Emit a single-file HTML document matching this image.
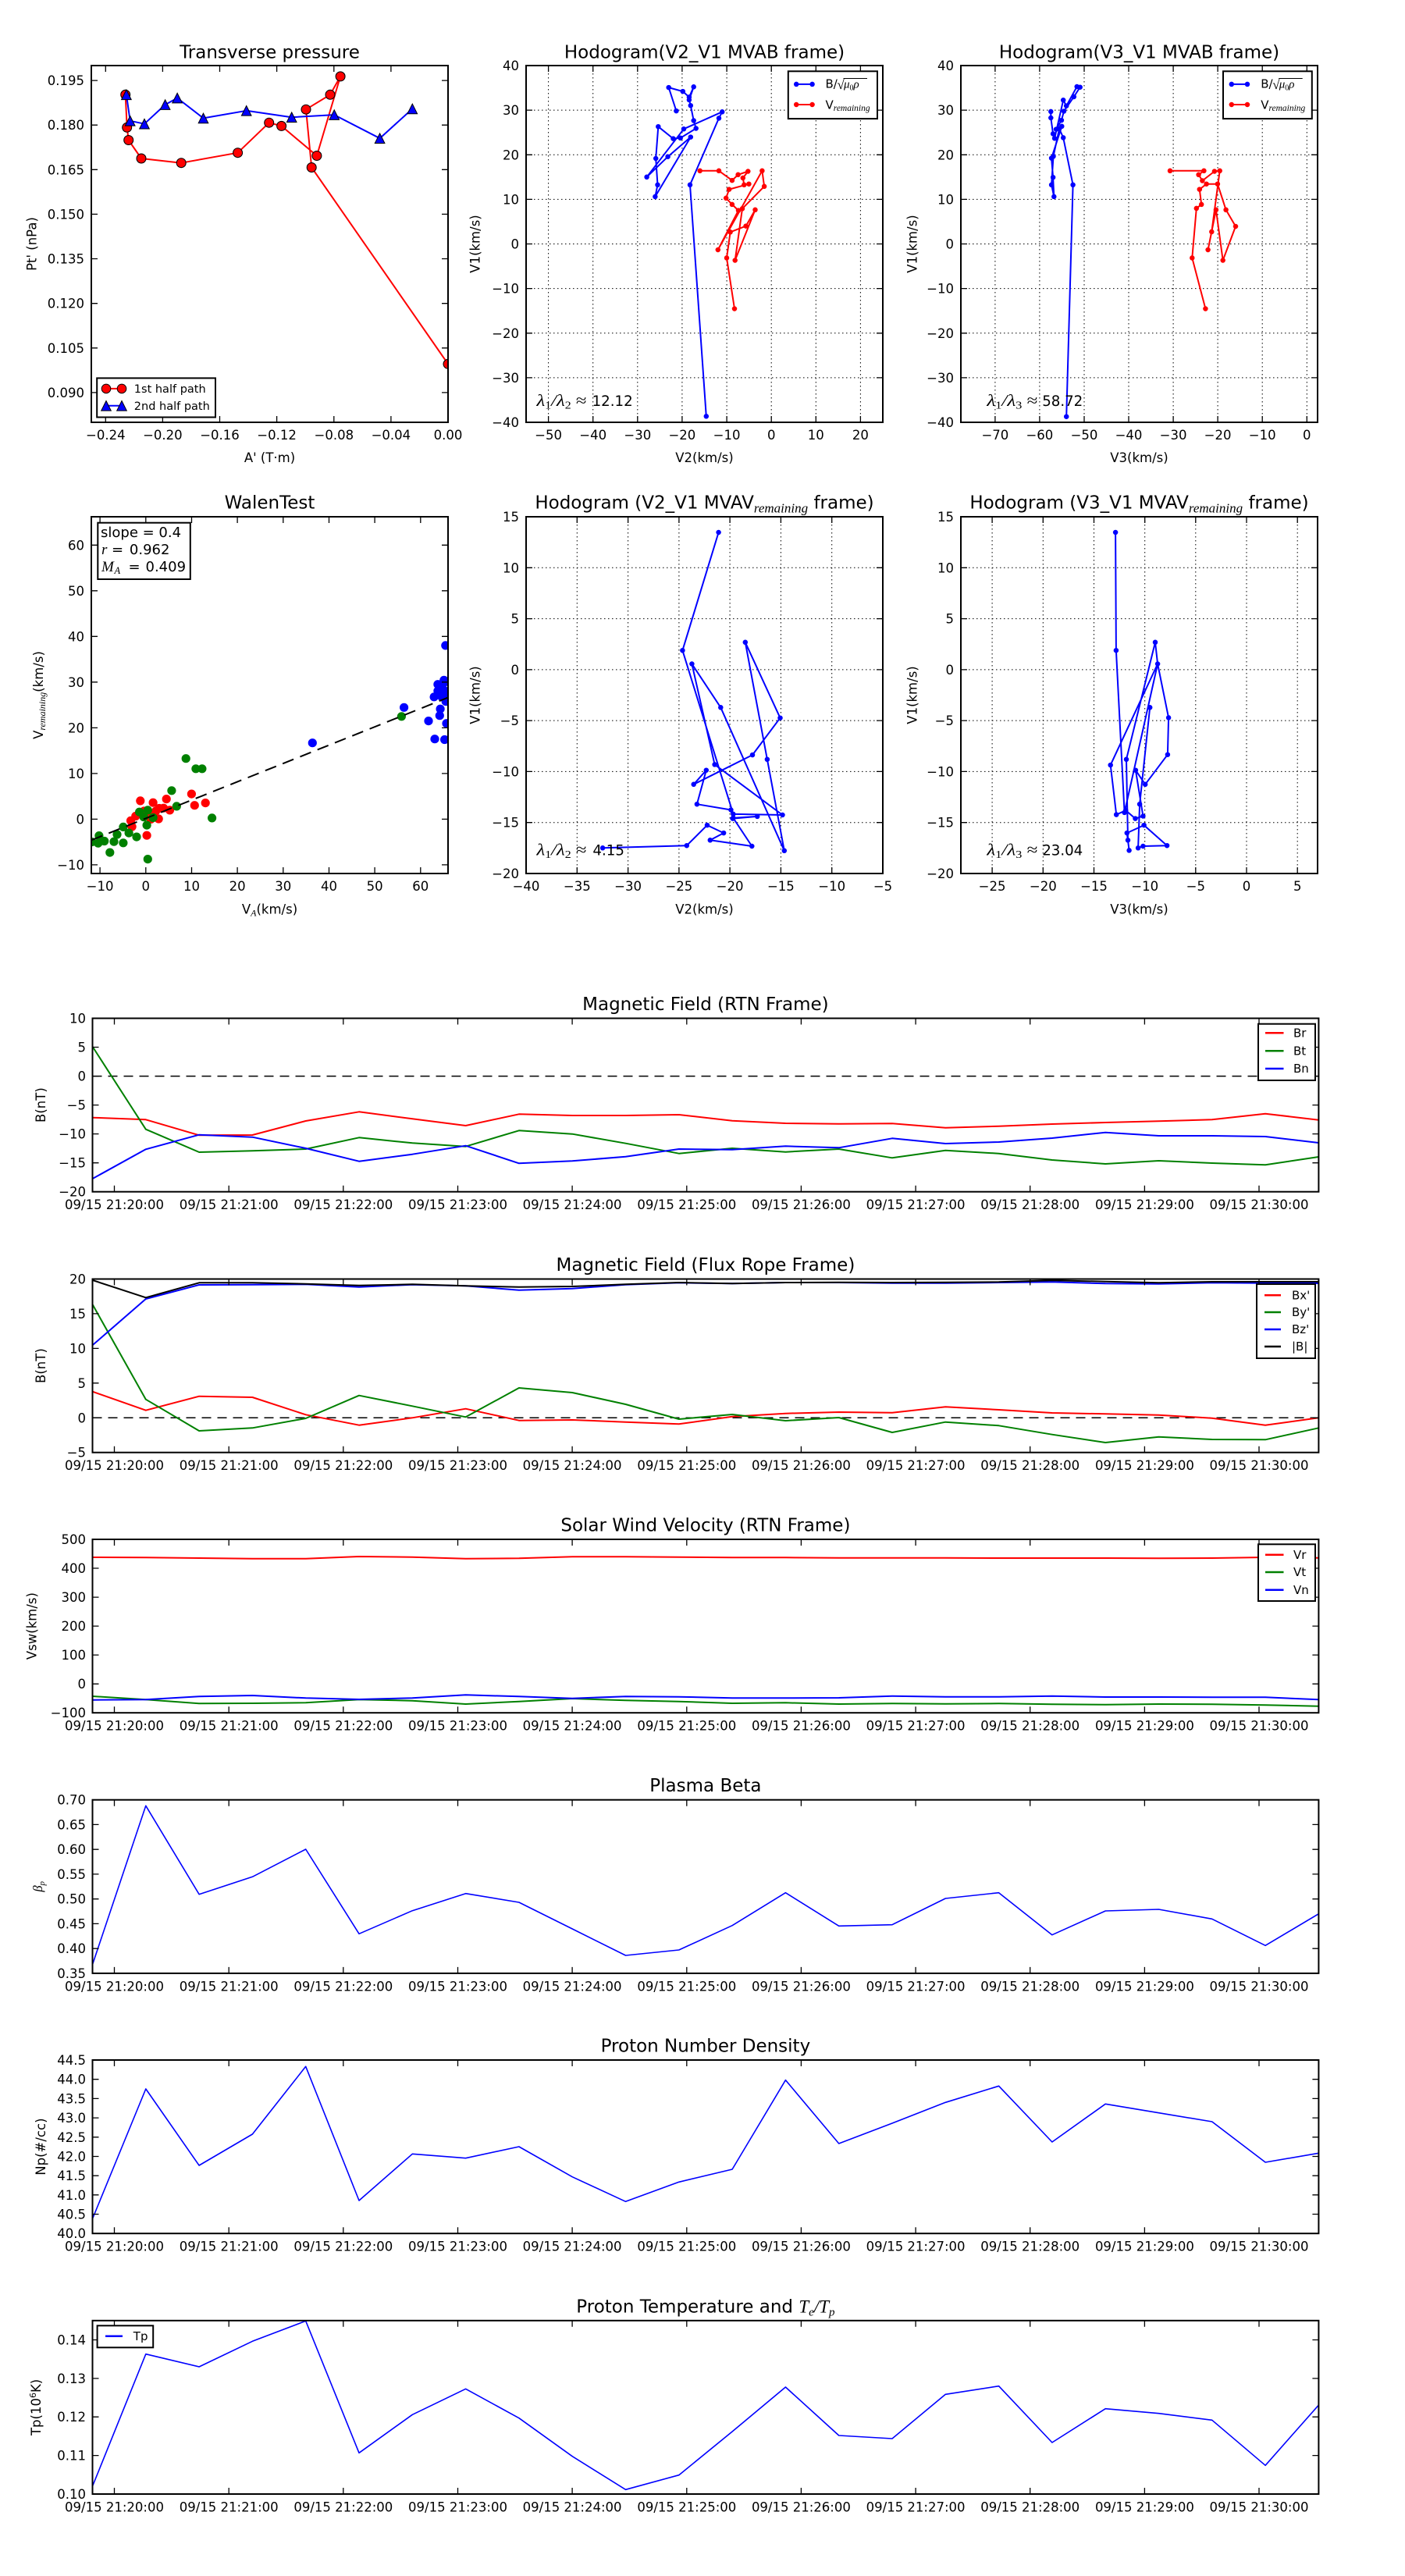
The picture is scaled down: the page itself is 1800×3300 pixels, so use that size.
<!DOCTYPE html>
<html><head><meta charset="utf-8"><title>chart</title>
<style>
html,body{margin:0;padding:0;background:#fff;}
svg{display:block;}
text{font-family:"DejaVu Sans","Liberation Sans",sans-serif;fill:#000;}
.tk{font-size:16.5px;}
.xl{text-anchor:middle;}
.yl{text-anchor:end;}
.ttl{font-size:23px;text-anchor:middle;}
.lab{font-size:16.5px;text-anchor:middle;}
.m{font-family:"Liberation Serif","DejaVu Serif",serif;font-style:italic;}
.r{font-family:"Liberation Serif","DejaVu Serif",serif;font-style:normal;}
.sp{fill:none;stroke:#000;stroke-width:2;}
.ti{fill:none;stroke:#000;stroke-width:1.3;}
.gr{fill:none;stroke:#000;stroke-width:1;stroke-dasharray:1.5,3.5;}
.ln{fill:none;stroke-width:2;stroke-linejoin:round;}
.ln1{fill:none;stroke-width:1.6;stroke-linejoin:round;}
.dot{fill:none;stroke-linecap:round;}
.lg{fill:#fff;stroke:#000;stroke-width:2;}
</style></head><body>
<svg width="1800" height="3300" viewBox="0 0 1800 3300" xmlns="http://www.w3.org/2000/svg">
<rect x="0" y="0" width="1800" height="3300" fill="#fff"/>
<defs>
<clipPath id="c1"><rect x="117" y="84" width="457" height="457"/></clipPath>
<clipPath id="c2"><rect x="674" y="84" width="457" height="457"/></clipPath>
<clipPath id="c3"><rect x="1231" y="84" width="457" height="457"/></clipPath>
<clipPath id="c4"><rect x="117" y="662" width="457" height="457"/></clipPath>
<clipPath id="c5"><rect x="674" y="662" width="457" height="457"/></clipPath>
<clipPath id="c6"><rect x="1231" y="662" width="457" height="457"/></clipPath>
<clipPath id="t1"><rect x="118.5" y="1304.5" width="1570.9" height="222.2"/></clipPath>
<clipPath id="t2"><rect x="118.5" y="1638.5" width="1570.9" height="222.2"/></clipPath>
<clipPath id="t3"><rect x="118.5" y="1972" width="1570.9" height="222.2"/></clipPath>
<clipPath id="t4"><rect x="118.5" y="2305.7" width="1570.9" height="222.2"/></clipPath>
<clipPath id="t5"><rect x="118.5" y="2639" width="1570.9" height="222.2"/></clipPath>
<clipPath id="t6"><rect x="118.5" y="2972.8" width="1570.9" height="222.2"/></clipPath>
</defs>

<!-- ============ Plot 1: Transverse pressure ============ -->
<text class="ttl" x="345.5" y="74.5">Transverse pressure</text>
<g clip-path="url(#c1)">
<polyline class="ln" stroke="#ff0000" points="574,466.3 399.2,214.5 392,140.2 423,121.3 436.1,97.9 405.9,199.5 360.6,161.4 344.7,157.2 304.6,195.7 232.2,208.7 181,203 164.7,179.5 162.7,163.3 160.7,121.3"/>
<path class="dot" stroke="#000" stroke-width="13" d="M574 466.3h0M399.2 214.5h0M392 140.2h0M423 121.3h0M436.1 97.9h0M405.9 199.5h0M360.6 161.4h0M344.7 157.2h0M304.6 195.7h0M232.2 208.7h0M181 203h0M164.7 179.5h0M162.7 163.3h0M160.7 121.3h0"/>
<path class="dot" stroke="#ff0000" stroke-width="10.8" d="M574 466.3h0M399.2 214.5h0M392 140.2h0M423 121.3h0M436.1 97.9h0M405.9 199.5h0M360.6 161.4h0M344.7 157.2h0M304.6 195.7h0M232.2 208.7h0M181 203h0M164.7 179.5h0M162.7 163.3h0M160.7 121.3h0"/>
<polyline class="ln" stroke="#0000ff" points="161.9,121.3 166.7,154.8 185,158.7 211.6,134.1 227.1,125.6 260.5,151.4 315.7,141.8 373.7,150.2 428.2,147.1 486.6,177.2 528.3,139.4"/>
<g fill="#0000ff" stroke="#000" stroke-width="1">
<polygon points="161.9,115 155.6,127.6 168.2,127.6"/>
<polygon points="166.7,148.5 160.4,161.1 173,161.1"/>
<polygon points="185,152.4 178.7,165 191.3,165"/>
<polygon points="211.6,127.8 205.3,140.4 217.9,140.4"/>
<polygon points="227.1,119.3 220.8,131.9 233.4,131.9"/>
<polygon points="260.5,145.1 254.2,157.7 266.8,157.7"/>
<polygon points="315.7,135.5 309.4,148.1 322,148.1"/>
<polygon points="373.7,143.9 367.4,156.5 380,156.5"/>
<polygon points="428.2,140.8 421.9,153.4 434.5,153.4"/>
<polygon points="486.6,170.9 480.3,183.5 492.9,183.5"/>
<polygon points="528.3,133.1 522,145.7 534.6,145.7"/>
</g>
</g>
<rect class="sp" x="117" y="84" width="457" height="457"/>
<path class="ti" d="M135.3 541v-8M135.3 84v8M208.4 541v-8M208.4 84v8M281.5 541v-8M281.5 84v8M354.6 541v-8M354.6 84v8M427.8 541v-8M427.8 84v8M500.9 541v-8M500.9 84v8M117 502.9h8M574 502.9h-8M117 445.8h8M574 445.8h-8M117 388.7h8M574 388.7h-8M117 331.5h8M574 331.5h-8M117 274.4h8M574 274.4h-8M117 217.3h8M574 217.3h-8M117 160.2h8M574 160.2h-8M117 103.1h8M574 103.1h-8"/>
<g class="tk xl">
<text x="135.3" y="563">−0.24</text><text x="208.4" y="563">−0.20</text><text x="281.5" y="563">−0.16</text><text x="354.6" y="563">−0.12</text><text x="427.8" y="563">−0.08</text><text x="500.9" y="563">−0.04</text><text x="574" y="563">0.00</text>
</g>
<g class="tk yl">
<text x="108" y="508.9">0.090</text><text x="108" y="451.8">0.105</text><text x="108" y="394.7">0.120</text><text x="108" y="337.5">0.135</text><text x="108" y="280.4">0.150</text><text x="108" y="223.3">0.165</text><text x="108" y="166.2">0.180</text><text x="108" y="109.1">0.195</text>
</g>
<text class="lab" x="345.5" y="592">A' (T·m)</text>
<text class="lab" transform="translate(46.5,312.5) rotate(-90)">Pt' (nPa)</text>
<rect class="lg" x="124.2" y="484.4" width="151.8" height="50.1"/>
<line x1="136" y1="497.9" x2="156" y2="497.9" stroke="#ff0000" stroke-width="2"/>
<circle cx="136" cy="497.9" r="5.8" fill="#ff0000" stroke="#000" stroke-width="1"/>
<circle cx="156" cy="497.9" r="5.8" fill="#ff0000" stroke="#000" stroke-width="1"/>
<text x="171.8" y="503" font-size="14.5">1st half path</text>
<line x1="136" y1="519.8" x2="156" y2="519.8" stroke="#0000ff" stroke-width="2"/>
<polygon points="136,513.5 129.7,526.1 142.3,526.1" fill="#0000ff" stroke="#000" stroke-width="1"/>
<polygon points="156,513.5 149.7,526.1 162.3,526.1" fill="#0000ff" stroke="#000" stroke-width="1"/>
<text x="171.8" y="525" font-size="14.5">2nd half path</text>

<!-- ============ Plot 2: Hodogram V2_V1 MVAB ============ -->
<text class="ttl" x="902.5" y="74.5">Hodogram(V2_V1 MVAB frame)</text>
<path class="gr" d="M702.6 84V541M759.7 84V541M816.8 84V541M873.9 84V541M931.1 84V541M988.2 84V541M1045.3 84V541M1102.4 84V541M674 141.1H1131M674 198.3H1131M674 255.4H1131M674 312.5H1131M674 369.6H1131M674 426.8H1131M674 483.9H1131"/>
<g clip-path="url(#c2)">
<polyline class="ln" stroke="#0000ff" points="866.4,142.1 856.7,112.1 874.8,117.1 882.9,124.4 888.7,111.3 882.9,127.9 884.8,135.2 888.7,154.5 891.7,164.5 871.7,176.8 862.5,177.6 843.3,162.2 840.2,203 842.5,236.8 839.4,251.9 884.8,175.6 855.6,200.7 828.6,226.8 876,165.2 925.2,143.3 921,151.4 884,236.8 904.8,533.3"/>
<path class="dot" stroke="#0000ff" stroke-width="6.5" d="M866.4 142.1h0M856.7 112.1h0M874.8 117.1h0M882.9 124.4h0M888.7 111.3h0M882.9 127.9h0M884.8 135.2h0M888.7 154.5h0M891.7 164.5h0M871.7 176.8h0M862.5 177.6h0M843.3 162.2h0M840.2 203h0M842.5 236.8h0M839.4 251.9h0M884.8 175.6h0M855.6 200.7h0M828.6 226.8h0M876 165.2h0M925.2 143.3h0M921 151.4h0M884 236.8h0M904.8 533.3h0"/>
<polyline class="ln" stroke="#ff0000" points="896.7,218.8 921,218.8 937.9,231.1 945.6,223.8 958.3,219.5 951.8,228 953.3,236.8 959.4,235.7 934.1,242.6 930.2,253.8 937.9,261.9 946,269.6 919.8,320 976.4,218.8 979.1,238.8 951,267.3 941.7,333.5 967.5,268.8 955.6,289.6 935.6,297.3 931,330.4 941,395.5"/>
<path class="dot" stroke="#ff0000" stroke-width="6.5" d="M896.7 218.8h0M921 218.8h0M937.9 231.1h0M945.6 223.8h0M958.3 219.5h0M951.8 228h0M953.3 236.8h0M959.4 235.7h0M934.1 242.6h0M930.2 253.8h0M937.9 261.9h0M946 269.6h0M919.8 320h0M976.4 218.8h0M979.1 238.8h0M951 267.3h0M941.7 333.5h0M967.5 268.8h0M955.6 289.6h0M935.6 297.3h0M931 330.4h0M941 395.5h0"/>
</g>
<rect class="sp" x="674" y="84" width="457" height="457"/>
<path class="ti" d="M702.6 541v-8M702.6 84v8M759.7 541v-8M759.7 84v8M816.8 541v-8M816.8 84v8M873.9 541v-8M873.9 84v8M931.1 541v-8M931.1 84v8M988.2 541v-8M988.2 84v8M1045.3 541v-8M1045.3 84v8M1102.4 541v-8M1102.4 84v8M674 141.1h8M1131 141.1h-8M674 198.3h8M1131 198.3h-8M674 255.4h8M1131 255.4h-8M674 312.5h8M1131 312.5h-8M674 369.6h8M1131 369.6h-8M674 426.8h8M1131 426.8h-8M674 483.9h8M1131 483.9h-8"/>
<g class="tk xl">
<text x="702.6" y="563">−50</text><text x="759.7" y="563">−40</text><text x="816.8" y="563">−30</text><text x="873.9" y="563">−20</text><text x="931.1" y="563">−10</text><text x="988.2" y="563">0</text><text x="1045.3" y="563">10</text><text x="1102.4" y="563">20</text>
</g>
<g class="tk yl">
<text x="665" y="90">40</text><text x="665" y="147.1">30</text><text x="665" y="204.3">20</text><text x="665" y="261.4">10</text><text x="665" y="318.5">0</text><text x="665" y="375.6">−10</text><text x="665" y="432.8">−20</text><text x="665" y="489.9">−30</text><text x="665" y="547">−40</text>
</g>
<text class="lab" x="902.5" y="592">V2(km/s)</text>
<text class="lab" transform="translate(614.6,312.5) rotate(-90)">V1(km/s)</text>
<text x="687.5" y="519.8" font-size="21" textLength="64" lengthAdjust="spacingAndGlyphs"><tspan class="m">λ</tspan><tspan class="r" font-size="13.5" dy="3.5">1</tspan><tspan class="m" dy="-3.5">/</tspan><tspan class="m">λ</tspan><tspan class="r" font-size="13.5" dy="3.5">2</tspan><tspan class="r" dy="-3.5"> ≈</tspan></text>
<text x="758.6" y="519.8" font-size="18.2">12.12</text>
<rect class="lg" x="1009.8" y="91.3" width="114.2" height="60.8"/>
<line x1="1020.2" y1="107.9" x2="1040.6" y2="107.9" stroke="#0000ff" stroke-width="2"/>
<path class="dot" stroke="#0000ff" stroke-width="6.5" d="M1020.2 107.9h0M1040.6 107.9h0"/>
<text x="1057.5" y="112.5" font-size="15">B/</text>
<text x="1072.5" y="114" font-size="17" class="r">√</text>
<line x1="1080.5" y1="100.5" x2="1111" y2="100.5" stroke="#000" stroke-width="1"/>
<text x="1081" y="112.5" font-size="15"><tspan class="m">μ</tspan><tspan class="r" font-size="10" dy="3">0</tspan><tspan class="m" dy="-3">ρ</tspan></text>
<line x1="1020.2" y1="134" x2="1040.6" y2="134" stroke="#ff0000" stroke-width="2"/>
<path class="dot" stroke="#ff0000" stroke-width="6.5" d="M1020.2 134h0M1040.6 134h0"/>
<text x="1057.5" y="139.4" font-size="15">V<tspan class="m" font-size="11.5" dy="2.5">remaining</tspan></text>

<!-- ============ Plot 3: Hodogram V3_V1 MVAB ============ -->
<text class="ttl" x="1459.5" y="74.5">Hodogram(V3_V1 MVAB frame)</text>
<path class="gr" d="M1274.9 84V541M1331.9 84V541M1389 84V541M1446 84V541M1503.1 84V541M1560.1 84V541M1617.2 84V541M1674.3 84V541M1231 141.1H1688M1231 198.3H1688M1231 255.4H1688M1231 312.5H1688M1231 369.6H1688M1231 426.8H1688M1231 483.9H1688"/>
<g clip-path="url(#c3)">
<polyline class="ln" stroke="#0000ff" points="1346.3,142.9 1346.3,151 1349.1,171.4 1351.1,177.2 1362.2,128.3 1366.2,135.6 1379.7,111 1383.7,111.7 1375.8,124 1363,142.5 1359.9,154.1 1353.1,165.6 1360.3,161.8 1347.1,202.6 1349.1,227.2 1350.3,251.9 1347.1,236.8 1349.5,200.3 1357.1,164.9 1362.2,176.4 1374.6,236.8 1366.2,533.7"/>
<path class="dot" stroke="#0000ff" stroke-width="6.5" d="M1346.3 142.9h0M1346.3 151h0M1349.1 171.4h0M1351.1 177.2h0M1362.2 128.3h0M1366.2 135.6h0M1379.7 111h0M1383.7 111.7h0M1375.8 124h0M1363 142.5h0M1359.9 154.1h0M1353.1 165.6h0M1360.3 161.8h0M1347.1 202.6h0M1349.1 227.2h0M1350.3 251.9h0M1347.1 236.8h0M1349.5 200.3h0M1357.1 164.9h0M1362.2 176.4h0M1374.6 236.8h0M1366.2 533.7h0"/>
<polyline class="ln" stroke="#ff0000" points="1499,218.8 1542.4,218.8 1535.6,223.8 1540.4,231.5 1555.9,219.5 1562.7,218.8 1552.3,296.9 1547.6,320 1557.9,268.8 1566.7,333.5 1583,290 1570.6,268.8 1559.9,235.7 1545.6,235.7 1536.8,242.6 1539.2,261.9 1532.8,266.9 1527.3,330.4 1544.4,395.5"/>
<path class="dot" stroke="#ff0000" stroke-width="6.5" d="M1499 218.8h0M1542.4 218.8h0M1535.6 223.8h0M1540.4 231.5h0M1555.9 219.5h0M1562.7 218.8h0M1552.3 296.9h0M1547.6 320h0M1557.9 268.8h0M1566.7 333.5h0M1583 290h0M1570.6 268.8h0M1559.9 235.7h0M1545.6 235.7h0M1536.8 242.6h0M1539.2 261.9h0M1532.8 266.9h0M1527.3 330.4h0M1544.4 395.5h0"/>
</g>
<rect class="sp" x="1231" y="84" width="457" height="457"/>
<path class="ti" d="M1274.9 541v-8M1274.9 84v8M1331.9 541v-8M1331.9 84v8M1389 541v-8M1389 84v8M1446 541v-8M1446 84v8M1503.1 541v-8M1503.1 84v8M1560.1 541v-8M1560.1 84v8M1617.2 541v-8M1617.2 84v8M1674.3 541v-8M1674.3 84v8M1231 141.1h8M1688 141.1h-8M1231 198.3h8M1688 198.3h-8M1231 255.4h8M1688 255.4h-8M1231 312.5h8M1688 312.5h-8M1231 369.6h8M1688 369.6h-8M1231 426.8h8M1688 426.8h-8M1231 483.9h8M1688 483.9h-8"/>
<g class="tk xl">
<text x="1274.9" y="563">−70</text><text x="1331.9" y="563">−60</text><text x="1389" y="563">−50</text><text x="1446" y="563">−40</text><text x="1503.1" y="563">−30</text><text x="1560.1" y="563">−20</text><text x="1617.2" y="563">−10</text><text x="1674.3" y="563">0</text>
</g>
<g class="tk yl">
<text x="1222" y="90">40</text><text x="1222" y="147.1">30</text><text x="1222" y="204.3">20</text><text x="1222" y="261.4">10</text><text x="1222" y="318.5">0</text><text x="1222" y="375.6">−10</text><text x="1222" y="432.8">−20</text><text x="1222" y="489.9">−30</text><text x="1222" y="547">−40</text>
</g>
<text class="lab" x="1459.5" y="592">V3(km/s)</text>
<text class="lab" transform="translate(1174.3,312.5) rotate(-90)">V1(km/s)</text>
<text x="1264.4" y="519.8" font-size="21" textLength="65" lengthAdjust="spacingAndGlyphs"><tspan class="m">λ</tspan><tspan class="r" font-size="13.5" dy="3.5">1</tspan><tspan class="m" dy="-3.5">/</tspan><tspan class="m">λ</tspan><tspan class="r" font-size="13.5" dy="3.5">3</tspan><tspan class="r" dy="-3.5"> ≈</tspan></text>
<text x="1335.2" y="519.8" font-size="18.2">58.72</text>
<rect class="lg" x="1567" y="91.3" width="113.8" height="60.8"/>
<line x1="1577.8" y1="107.9" x2="1598" y2="107.9" stroke="#0000ff" stroke-width="2"/>
<path class="dot" stroke="#0000ff" stroke-width="6.5" d="M1577.8 107.9h0M1598 107.9h0"/>
<text x="1615.2" y="112.5" font-size="15">B/</text>
<text x="1630.2" y="114" font-size="17" class="r">√</text>
<line x1="1638.2" y1="100.5" x2="1668.7" y2="100.5" stroke="#000" stroke-width="1"/>
<text x="1638.7" y="112.5" font-size="15"><tspan class="m">μ</tspan><tspan class="r" font-size="10" dy="3">0</tspan><tspan class="m" dy="-3">ρ</tspan></text>
<line x1="1577.8" y1="134" x2="1598" y2="134" stroke="#ff0000" stroke-width="2"/>
<path class="dot" stroke="#ff0000" stroke-width="6.5" d="M1577.8 134h0M1598 134h0"/>
<text x="1615.2" y="139.4" font-size="15">V<tspan class="m" font-size="11.5" dy="2.5">remaining</tspan></text>

<!-- ============ Plot 4: WalenTest ============ -->
<text class="ttl" x="345.5" y="651.5">WalenTest</text>
<g clip-path="url(#c4)">
<path class="dot" stroke="#ff0000" stroke-width="11.2" d="M167.5 1051.3h0M169.1 1059h0M173.8 1045.5h0M179.8 1025.9h0M184.6 1039h0M188.1 1070.2h0M189.7 1042.1h0M193.3 1049.4h0M196.1 1028.2h0M199.7 1039h0M203.2 1049h0M204 1035.5h0M209.6 1035.2h0M213.2 1023.6h0M217.5 1037.9h0M245.4 1017.1h0M249.3 1031.7h0M263.2 1028.6h0"/>
<path class="dot" stroke="#008000" stroke-width="11.2" d="M117.8 1078.6h0M126.9 1070.6h0M125.7 1080.2h0M133.7 1077.5h0M140.8 1092.1h0M146 1078.2h0M150 1069h0M157.9 1059.4h0M157.9 1079.8h0M165.1 1067.1h0M175 1072.1h0M178.6 1040.2h0M184.2 1046.7h0M188.1 1057.1h0M189.3 1037.9h0M189.3 1100.6h0M196.1 1047.5h0M219.9 1012.8h0M226.3 1032.9h0M238.2 971.7h0M250.9 984.8h0M258.9 984.8h0M271.6 1047.9h0M514.4 917.8h0"/>
<path class="dot" stroke="#0000ff" stroke-width="11.2" d="M400.3 951.7h0M517.6 906.3h0M549 923.6h0M557 946.7h0M556.1 892.8h0M560.9 885.1h0M560.9 876.7h0M564.1 908.2h0M563.3 916.7h0M566.1 892.8h0M568.8 871.3h0M570 885.1h0M570.8 826.9h0M571.2 898.6h0M572 926.7h0M569.6 947.5h0M566.1 881.3h0M568 875.5h0M563.3 883.2h0M572 892.8h0"/>
<line x1="117" y1="1076.3" x2="574" y2="893.6" stroke="#000" stroke-width="2" stroke-dasharray="15,9"/>
</g>
<rect class="sp" x="117" y="662" width="457" height="457"/>
<path class="ti" d="M128.1 1119v-8M128.1 662v8M186.8 1119v-8M186.8 662v8M245.5 1119v-8M245.5 662v8M304.1 1119v-8M304.1 662v8M362.8 1119v-8M362.8 662v8M421.5 1119v-8M421.5 662v8M480.1 1119v-8M480.1 662v8M538.8 1119v-8M538.8 662v8M117 1107.9h8M574 1107.9h-8M117 1049.4h8M574 1049.4h-8M117 990.9h8M574 990.9h-8M117 932.4h8M574 932.4h-8M117 873.8h8M574 873.8h-8M117 815.3h8M574 815.3h-8M117 756.8h8M574 756.8h-8M117 698.3h8M574 698.3h-8"/>
<g class="tk xl">
<text x="128.1" y="1141">−10</text><text x="186.8" y="1141">0</text><text x="245.5" y="1141">10</text><text x="304.1" y="1141">20</text><text x="362.8" y="1141">30</text><text x="421.5" y="1141">40</text><text x="480.1" y="1141">50</text><text x="538.8" y="1141">60</text>
</g>
<g class="tk yl">
<text x="108" y="1113.9">−10</text><text x="108" y="1055.4">0</text><text x="108" y="996.9">10</text><text x="108" y="938.4">20</text><text x="108" y="879.8">30</text><text x="108" y="821.3">40</text><text x="108" y="762.8">50</text><text x="108" y="704.3">60</text>
</g>
<text class="lab" x="345.5" y="1170.5">V<tspan class="m" font-size="12" dy="3">A</tspan><tspan dy="-3">(km/s)</tspan></text>
<text class="lab" transform="translate(55,890.5) rotate(-90)">V<tspan class="m" font-size="12" dy="3">remaining</tspan><tspan dy="-3">(km/s)</tspan></text>
<rect class="lg" x="125.3" y="669.7" width="118.5" height="72.3"/>
<text x="129" y="688.2" font-size="18">slope = 0.4</text>
<text x="130" y="710" font-size="19" class="m">r</text>
<text x="143" y="710" font-size="18">=</text>
<text x="165.9" y="710" font-size="18">0.962</text>
<text x="130" y="732" font-size="19" class="m">M</text>
<text x="146.5" y="735" font-size="12.5" class="m">A</text>
<text x="164.5" y="732" font-size="18">=</text>
<text x="186.5" y="732" font-size="18">0.409</text>

<!-- ============ Plot 5: Hodogram V2_V1 MVAV ============ -->
<text class="ttl" x="902.5" y="651.5">Hodogram (V2_V1 MVAV<tspan class="m" font-size="17" dy="5">remaining</tspan><tspan dy="-5"> frame)</tspan></text>
<path class="gr" d="M739.3 662V1119M804.6 662V1119M869.9 662V1119M935.1 662V1119M1000.4 662V1119M1065.7 662V1119M674 727.3H1131M674 792.6H1131M674 857.9H1131M674 923.1H1131M674 988.4H1131M674 1053.7H1131"/>
<g clip-path="url(#c5)">
<polyline class="ln" stroke="#0000ff" points="920.6,682 874.4,833.2 939.4,1042.9 1002.5,1044 915.6,979.4 886.4,850.5 923.3,906.3 1004.8,1089.8 982.9,972.8 954.8,822.8 999.5,919.7 964,967.1 888.7,1004.8 904.8,986.7 892.9,1030.2 936.4,1037.5 938.7,1048.6 970.2,1045.9 939.4,1047.9 963.3,1084 909.8,1076.3 927.1,1067.1 906,1057.1 879.8,1083.2 772.1,1086.3"/>
<path class="dot" stroke="#0000ff" stroke-width="6.5" d="M920.6 682h0M874.4 833.2h0M939.4 1042.9h0M1002.5 1044h0M915.6 979.4h0M886.4 850.5h0M923.3 906.3h0M1004.8 1089.8h0M982.9 972.8h0M954.8 822.8h0M999.5 919.7h0M964 967.1h0M888.7 1004.8h0M904.8 986.7h0M892.9 1030.2h0M936.4 1037.5h0M938.7 1048.6h0M970.2 1045.9h0M939.4 1047.9h0M963.3 1084h0M909.8 1076.3h0M927.1 1067.1h0M906 1057.1h0M879.8 1083.2h0M772.1 1086.3h0"/>
</g>
<rect class="sp" x="674" y="662" width="457" height="457"/>
<path class="ti" d="M739.3 1119v-8M739.3 662v8M804.6 1119v-8M804.6 662v8M869.9 1119v-8M869.9 662v8M935.1 1119v-8M935.1 662v8M1000.4 1119v-8M1000.4 662v8M1065.7 1119v-8M1065.7 662v8M674 727.3h8M1131 727.3h-8M674 792.6h8M1131 792.6h-8M674 857.9h8M1131 857.9h-8M674 923.1h8M1131 923.1h-8M674 988.4h8M1131 988.4h-8M674 1053.7h8M1131 1053.7h-8"/>
<g class="tk xl">
<text x="674" y="1141">−40</text><text x="739.3" y="1141">−35</text><text x="804.6" y="1141">−30</text><text x="869.9" y="1141">−25</text><text x="935.1" y="1141">−20</text><text x="1000.4" y="1141">−15</text><text x="1065.7" y="1141">−10</text><text x="1131" y="1141">−5</text>
</g>
<g class="tk yl">
<text x="665" y="668">15</text><text x="665" y="733.3">10</text><text x="665" y="798.6">5</text><text x="665" y="863.9">0</text><text x="665" y="929.1">−5</text><text x="665" y="994.4">−10</text><text x="665" y="1059.7">−15</text><text x="665" y="1125">−20</text>
</g>
<text class="lab" x="902.5" y="1170.5">V2(km/s)</text>
<text class="lab" transform="translate(614.6,890.5) rotate(-90)">V1(km/s)</text>
<text x="687.5" y="1095.6" font-size="21" textLength="64" lengthAdjust="spacingAndGlyphs"><tspan class="m">λ</tspan><tspan class="r" font-size="13.5" dy="3.5">1</tspan><tspan class="m" dy="-3.5">/</tspan><tspan class="m">λ</tspan><tspan class="r" font-size="13.5" dy="3.5">2</tspan><tspan class="r" dy="-3.5"> ≈</tspan></text>
<text x="759.4" y="1095.6" font-size="18.2">4.15</text>

<!-- ============ Plot 6: Hodogram V3_V1 MVAV ============ -->
<text class="ttl" x="1459.5" y="651.5">Hodogram (V3_V1 MVAV<tspan class="m" font-size="17" dy="5">remaining</tspan><tspan dy="-5"> frame)</tspan></text>
<path class="gr" d="M1271.1 662V1119M1336.3 662V1119M1401.5 662V1119M1466.7 662V1119M1531.8 662V1119M1597 662V1119M1662.2 662V1119M1231 727.3H1688M1231 792.6H1688M1231 857.9H1688M1231 923.1H1688M1231 988.4H1688M1231 1053.7H1688"/>
<g clip-path="url(#c6)">
<polyline class="ln" stroke="#0000ff" points="1429.1,682 1429.9,833.2 1440.6,1040.9 1483.1,850.5 1422.7,980.1 1430.2,1043.6 1442.2,1038.2 1454.5,1048.6 1464.4,1045.5 1454.9,986.7 1467.2,1004.8 1495.9,966.7 1497.1,919.4 1483.1,850.5 1480,822.8 1443,972.8 1445,1076.3 1446.6,1089.4 1443.8,1067.1 1465.6,1057.1 1495.1,1083.2 1464.4,1084 1458.1,1086.3 1460.1,1030.2 1473.2,906.3"/>
<path class="dot" stroke="#0000ff" stroke-width="6.5" d="M1429.1 682h0M1429.9 833.2h0M1440.6 1040.9h0M1483.1 850.5h0M1422.7 980.1h0M1430.2 1043.6h0M1442.2 1038.2h0M1454.5 1048.6h0M1464.4 1045.5h0M1454.9 986.7h0M1467.2 1004.8h0M1495.9 966.7h0M1497.1 919.4h0M1480 822.8h0M1443 972.8h0M1445 1076.3h0M1446.6 1089.4h0M1443.8 1067.1h0M1465.6 1057.1h0M1495.1 1083.2h0M1464.4 1084h0M1458.1 1086.3h0M1460.1 1030.2h0M1473.2 906.3h0"/>
</g>
<rect class="sp" x="1231" y="662" width="457" height="457"/>
<path class="ti" d="M1271.1 1119v-8M1271.1 662v8M1336.3 1119v-8M1336.3 662v8M1401.5 1119v-8M1401.5 662v8M1466.7 1119v-8M1466.7 662v8M1531.8 1119v-8M1531.8 662v8M1597 1119v-8M1597 662v8M1662.2 1119v-8M1662.2 662v8M1231 727.3h8M1688 727.3h-8M1231 792.6h8M1688 792.6h-8M1231 857.9h8M1688 857.9h-8M1231 923.1h8M1688 923.1h-8M1231 988.4h8M1688 988.4h-8M1231 1053.7h8M1688 1053.7h-8"/>
<g class="tk xl">
<text x="1271.1" y="1141">−25</text><text x="1336.3" y="1141">−20</text><text x="1401.5" y="1141">−15</text><text x="1466.7" y="1141">−10</text><text x="1531.8" y="1141">−5</text><text x="1597" y="1141">0</text><text x="1662.2" y="1141">5</text>
</g>
<g class="tk yl">
<text x="1222" y="668">15</text><text x="1222" y="733.3">10</text><text x="1222" y="798.6">5</text><text x="1222" y="863.9">0</text><text x="1222" y="929.1">−5</text><text x="1222" y="994.4">−10</text><text x="1222" y="1059.7">−15</text><text x="1222" y="1125">−20</text>
</g>
<text class="lab" x="1459.5" y="1170.5">V3(km/s)</text>
<text class="lab" transform="translate(1174.3,890.5) rotate(-90)">V1(km/s)</text>
<text x="1264.4" y="1095.6" font-size="21" textLength="65" lengthAdjust="spacingAndGlyphs"><tspan class="m">λ</tspan><tspan class="r" font-size="13.5" dy="3.5">1</tspan><tspan class="m" dy="-3.5">/</tspan><tspan class="m">λ</tspan><tspan class="r" font-size="13.5" dy="3.5">3</tspan><tspan class="r" dy="-3.5"> ≈</tspan></text>
<text x="1335.2" y="1095.6" font-size="18.2">23.04</text>

<!-- ============ TS1: Magnetic Field RTN ============ -->
<text class="ttl" x="903.9" y="1294">Magnetic Field (RTN Frame)</text>
<g clip-path="url(#t1)">
<line x1="118.5" y1="1378.6" x2="1689.4" y2="1378.6" stroke="#000" stroke-width="1.5" stroke-dasharray="12,8"/>
<polyline class="ln" stroke="#ff0000" points="118.5,1431.7 186.8,1434.3 255.1,1454.3 323.4,1454 391.7,1436 460,1424.3 528.3,1433.3 596.6,1442 664.9,1427.3 733.2,1429 801.5,1429 869.8,1428 938.1,1435.7 1006.4,1439 1074.7,1439.7 1143,1439.3 1211.3,1444.7 1279.6,1442.7 1347.9,1440 1416.2,1438 1484.5,1436.3 1552.8,1434.3 1621.1,1426.7 1689.4,1434.7"/>
<polyline class="ln" stroke="#008000" points="118.5,1340.7 186.8,1446.7 255.1,1476 323.4,1474.3 391.7,1472 460,1457.3 528.3,1464.3 596.6,1468.7 664.9,1448.3 733.2,1452.7 801.5,1464.7 869.8,1477.7 938.1,1471 1006.4,1475.7 1074.7,1472 1143,1483.3 1211.3,1473.7 1279.6,1477.7 1347.9,1486 1416.2,1491 1484.5,1487 1552.8,1490 1621.1,1492.3 1689.4,1482"/>
<polyline class="ln" stroke="#0000ff" points="118.5,1510 186.8,1472.3 255.1,1453.7 323.4,1456.7 391.7,1471 460,1487.7 528.3,1478.7 596.6,1467.7 664.9,1490.3 733.2,1487.3 801.5,1481.7 869.8,1472 938.1,1472.7 1006.4,1468.3 1074.7,1470.3 1143,1458.3 1211.3,1465 1279.6,1463 1347.9,1458 1416.2,1450.7 1484.5,1455 1552.8,1455 1621.1,1456 1689.4,1464"/>
</g>
<rect class="sp" x="118.5" y="1304.5" width="1570.9" height="222.2"/>
<path class="ti" d="M146.5 1526.7v-8M146.5 1304.5v8M293.2 1526.7v-8M293.2 1304.5v8M439.8 1526.7v-8M439.8 1304.5v8M586.5 1526.7v-8M586.5 1304.5v8M733.1 1526.7v-8M733.1 1304.5v8M879.8 1526.7v-8M879.8 1304.5v8M1026.4 1526.7v-8M1026.4 1304.5v8M1173.1 1526.7v-8M1173.1 1304.5v8M1319.7 1526.7v-8M1319.7 1304.5v8M1466.4 1526.7v-8M1466.4 1304.5v8M1613 1526.7v-8M1613 1304.5v8M118.5 1341.5h8M1689.4 1341.5h-8M118.5 1378.6h8M1689.4 1378.6h-8M118.5 1415.6h8M1689.4 1415.6h-8M118.5 1452.6h8M1689.4 1452.6h-8M118.5 1489.7h8M1689.4 1489.7h-8"/>
<g class="tk yl">
<text x="110" y="1310.5">10</text><text x="110" y="1347.5">5</text><text x="110" y="1384.6">0</text><text x="110" y="1421.6">−5</text><text x="110" y="1458.6">−10</text><text x="110" y="1495.7">−15</text><text x="110" y="1532.7">−20</text>
</g>
<g class="tk xl">
<text x="146.5" y="1549.2">09/15 21:20:00</text><text x="293.2" y="1549.2">09/15 21:21:00</text><text x="439.8" y="1549.2">09/15 21:22:00</text><text x="586.5" y="1549.2">09/15 21:23:00</text><text x="733.1" y="1549.2">09/15 21:24:00</text><text x="879.8" y="1549.2">09/15 21:25:00</text><text x="1026.4" y="1549.2">09/15 21:26:00</text><text x="1173.1" y="1549.2">09/15 21:27:00</text><text x="1319.7" y="1549.2">09/15 21:28:00</text><text x="1466.4" y="1549.2">09/15 21:29:00</text><text x="1613" y="1549.2">09/15 21:30:00</text>
</g>
<text class="lab" transform="translate(58,1415.6) rotate(-90)">B(nT)</text>
<rect class="lg" x="1612" y="1311.7" width="73" height="72.3"/>
<line x1="1621" y1="1323.3" x2="1644.5" y2="1323.3" stroke="#ff0000" stroke-width="2.5"/>
<text x="1657" y="1328.5" font-size="15">Br</text>
<line x1="1621" y1="1346.3" x2="1644.5" y2="1346.3" stroke="#008000" stroke-width="2.5"/>
<text x="1657" y="1351.5" font-size="15">Bt</text>
<line x1="1621" y1="1369" x2="1644.5" y2="1369" stroke="#0000ff" stroke-width="2.5"/>
<text x="1657" y="1374.2" font-size="15">Bn</text>

<!-- ============ TS2: Magnetic Field Flux Rope ============ -->
<text class="ttl" x="903.9" y="1628">Magnetic Field (Flux Rope Frame)</text>
<g clip-path="url(#t2)">
<line x1="118.5" y1="1816.3" x2="1689.4" y2="1816.3" stroke="#000" stroke-width="1.5" stroke-dasharray="12,8"/>
<polyline class="ln" stroke="#ff0000" points="118.5,1782.7 186.8,1806.7 255.1,1788.7 323.4,1790 391.7,1812.3 460,1825.7 528.3,1816.3 596.6,1804.7 664.9,1819.7 733.2,1819 801.5,1821.7 869.8,1824.3 938.1,1814.7 1006.4,1810.7 1074.7,1809 1143,1809.7 1211.3,1802.3 1279.6,1806 1347.9,1810 1416.2,1811.3 1484.5,1812.7 1552.8,1816.7 1621.1,1825.7 1689.4,1816.3"/>
<polyline class="ln" stroke="#008000" points="118.5,1671 186.8,1792.7 255.1,1833 323.4,1829.3 391.7,1817 460,1787.7 528.3,1801.3 596.6,1815.3 664.9,1778 733.2,1784 801.5,1799 869.8,1818 938.1,1812 1006.4,1820 1074.7,1816 1143,1835 1211.3,1821.7 1279.6,1826.3 1347.9,1837.7 1416.2,1848 1484.5,1840.7 1552.8,1844 1621.1,1844.3 1689.4,1829.3"/>
<polyline class="ln" stroke="#0000ff" points="118.5,1723.3 186.8,1664 255.1,1646 323.4,1645.7 391.7,1645.3 460,1648.7 528.3,1645.7 596.6,1647.3 664.9,1652.7 733.2,1650.7 801.5,1645.7 869.8,1643.3 938.1,1644.3 1006.4,1643 1074.7,1643 1143,1643.7 1211.3,1643.7 1279.6,1643 1347.9,1642.3 1416.2,1644.3 1484.5,1644.7 1552.8,1643.3 1621.1,1643.7 1689.4,1644"/>
<polyline class="ln" stroke="#000" points="118.5,1640 186.8,1662.3 255.1,1643.3 323.4,1643.3 391.7,1644.7 460,1646.7 528.3,1645.3 596.6,1647.3 664.9,1648.7 733.2,1648 801.5,1645.3 869.8,1643 938.1,1644.3 1006.4,1643 1074.7,1642.7 1143,1643 1211.3,1642.7 1279.6,1642.3 1347.9,1640.3 1416.2,1641.7 1484.5,1643.3 1552.8,1642 1621.1,1642 1689.4,1642"/>
</g>
<rect class="sp" x="118.5" y="1638.5" width="1570.9" height="222.2"/>
<path class="ti" d="M146.5 1860.7v-8M146.5 1638.5v8M293.2 1860.7v-8M293.2 1638.5v8M439.8 1860.7v-8M439.8 1638.5v8M586.5 1860.7v-8M586.5 1638.5v8M733.1 1860.7v-8M733.1 1638.5v8M879.8 1860.7v-8M879.8 1638.5v8M1026.4 1860.7v-8M1026.4 1638.5v8M1173.1 1860.7v-8M1173.1 1638.5v8M1319.7 1860.7v-8M1319.7 1638.5v8M1466.4 1860.7v-8M1466.4 1638.5v8M1613 1860.7v-8M1613 1638.5v8M118.5 1682.9h8M1689.4 1682.9h-8M118.5 1727.4h8M1689.4 1727.4h-8M118.5 1771.8h8M1689.4 1771.8h-8M118.5 1816.3h8M1689.4 1816.3h-8"/>
<g class="tk yl">
<text x="110" y="1644.5">20</text><text x="110" y="1688.9">15</text><text x="110" y="1733.4">10</text><text x="110" y="1777.8">5</text><text x="110" y="1822.3">0</text><text x="110" y="1866.7">−5</text>
</g>
<g class="tk xl">
<text x="146.5" y="1883.2">09/15 21:20:00</text><text x="293.2" y="1883.2">09/15 21:21:00</text><text x="439.8" y="1883.2">09/15 21:22:00</text><text x="586.5" y="1883.2">09/15 21:23:00</text><text x="733.1" y="1883.2">09/15 21:24:00</text><text x="879.8" y="1883.2">09/15 21:25:00</text><text x="1026.4" y="1883.2">09/15 21:26:00</text><text x="1173.1" y="1883.2">09/15 21:27:00</text><text x="1319.7" y="1883.2">09/15 21:28:00</text><text x="1466.4" y="1883.2">09/15 21:29:00</text><text x="1613" y="1883.2">09/15 21:30:00</text>
</g>
<text class="lab" transform="translate(58,1749.6) rotate(-90)">B(nT)</text>
<rect class="lg" x="1610" y="1645" width="75" height="95"/>
<line x1="1620" y1="1659.3" x2="1641" y2="1659.3" stroke="#ff0000" stroke-width="2.5"/>
<text x="1655" y="1664.5" font-size="15">Bx'</text>
<line x1="1620" y1="1681" x2="1641" y2="1681" stroke="#008000" stroke-width="2.5"/>
<text x="1655" y="1686.2" font-size="15">By'</text>
<line x1="1620" y1="1703" x2="1641" y2="1703" stroke="#0000ff" stroke-width="2.5"/>
<text x="1655" y="1708.2" font-size="15">Bz'</text>
<line x1="1620" y1="1725" x2="1641" y2="1725" stroke="#000" stroke-width="2.5"/>
<text x="1655" y="1730.2" font-size="15">|B|</text>

<!-- ============ TS3: Solar Wind Velocity ============ -->
<text class="ttl" x="903.9" y="1961.5">Solar Wind Velocity (RTN Frame)</text>
<g clip-path="url(#t3)">
<polyline class="ln" stroke="#ff0000" points="118.5,1995 186.8,1995.3 255.1,1996 323.4,1996.7 391.7,1996.7 460,1994 528.3,1994.7 596.6,1996.7 664.9,1996.3 733.2,1994.3 801.5,1994.3 869.8,1994.7 938.1,1995.3 1006.4,1995.3 1074.7,1995.7 1143,1995.7 1211.3,1995.7 1279.6,1996 1347.9,1996 1416.2,1996 1484.5,1996.3 1552.8,1996 1621.1,1995 1689.4,1995.7"/>
<polyline class="ln" stroke="#008000" points="118.5,2173 186.8,2177.3 255.1,2182.3 323.4,2182 391.7,2181.3 460,2177.3 528.3,2178.7 596.6,2183 664.9,2179.7 733.2,2176 801.5,2178.3 869.8,2179.7 938.1,2182 1006.4,2181.3 1074.7,2183 1143,2182.3 1211.3,2182.7 1279.6,2182.3 1347.9,2183.3 1416.2,2183.7 1484.5,2183 1552.8,2183.3 1621.1,2184.3 1689.4,2185.7"/>
<polyline class="ln" stroke="#0000ff" points="118.5,2177.7 186.8,2177.3 255.1,2173.3 323.4,2172 391.7,2175.3 460,2177 528.3,2175.3 596.6,2171.3 664.9,2173.3 733.2,2175.7 801.5,2173.3 869.8,2173.7 938.1,2175.3 1006.4,2175.3 1074.7,2175 1143,2172.7 1211.3,2173.7 1279.6,2173.7 1347.9,2172.7 1416.2,2174 1484.5,2174 1552.8,2174.3 1621.1,2174.3 1689.4,2177.3"/>
</g>
<rect class="sp" x="118.5" y="1972" width="1570.9" height="222.2"/>
<path class="ti" d="M146.5 2194.2v-8M146.5 1972v8M293.2 2194.2v-8M293.2 1972v8M439.8 2194.2v-8M439.8 1972v8M586.5 2194.2v-8M586.5 1972v8M733.1 2194.2v-8M733.1 1972v8M879.8 2194.2v-8M879.8 1972v8M1026.4 2194.2v-8M1026.4 1972v8M1173.1 2194.2v-8M1173.1 1972v8M1319.7 2194.2v-8M1319.7 1972v8M1466.4 2194.2v-8M1466.4 1972v8M1613 2194.2v-8M1613 1972v8M118.5 2009h8M1689.4 2009h-8M118.5 2046.1h8M1689.4 2046.1h-8M118.5 2083.1h8M1689.4 2083.1h-8M118.5 2120.1h8M1689.4 2120.1h-8M118.5 2157.2h8M1689.4 2157.2h-8"/>
<g class="tk yl">
<text x="110" y="1978">500</text><text x="110" y="2015">400</text><text x="110" y="2052.1">300</text><text x="110" y="2089.1">200</text><text x="110" y="2126.1">100</text><text x="110" y="2163.2">0</text><text x="110" y="2200.2">−100</text>
</g>
<g class="tk xl">
<text x="146.5" y="2216.7">09/15 21:20:00</text><text x="293.2" y="2216.7">09/15 21:21:00</text><text x="439.8" y="2216.7">09/15 21:22:00</text><text x="586.5" y="2216.7">09/15 21:23:00</text><text x="733.1" y="2216.7">09/15 21:24:00</text><text x="879.8" y="2216.7">09/15 21:25:00</text><text x="1026.4" y="2216.7">09/15 21:26:00</text><text x="1173.1" y="2216.7">09/15 21:27:00</text><text x="1319.7" y="2216.7">09/15 21:28:00</text><text x="1466.4" y="2216.7">09/15 21:29:00</text><text x="1613" y="2216.7">09/15 21:30:00</text>
</g>
<text class="lab" transform="translate(46.4,2083.1) rotate(-90)">Vsw(km/s)</text>
<rect class="lg" x="1612" y="1978.3" width="73" height="72.7"/>
<line x1="1621" y1="1991.7" x2="1644.5" y2="1991.7" stroke="#ff0000" stroke-width="2.5"/>
<text x="1657" y="1996.9" font-size="15">Vr</text>
<line x1="1621" y1="2014" x2="1644.5" y2="2014" stroke="#008000" stroke-width="2.5"/>
<text x="1657" y="2019.2" font-size="15">Vt</text>
<line x1="1621" y1="2036.7" x2="1644.5" y2="2036.7" stroke="#0000ff" stroke-width="2.5"/>
<text x="1657" y="2041.9" font-size="15">Vn</text>

<!-- ============ TS4: Plasma Beta ============ -->
<text class="ttl" x="903.9" y="2295.2">Plasma Beta</text>
<g clip-path="url(#t4)">
<polyline class="ln1" stroke="#0000ff" points="118.5,2516.7 186.8,2313.3 255.1,2426.7 323.4,2404.3 391.7,2369 460,2477.3 528.3,2447.7 596.6,2425.7 664.9,2437 733.2,2471 801.5,2505 869.8,2498 938.1,2466.7 1006.4,2424.7 1074.7,2467.3 1143,2465.7 1211.3,2432 1279.6,2424.7 1347.9,2478.7 1416.2,2448 1484.5,2446 1552.8,2458.3 1621.1,2492.3 1689.4,2451.7"/>
</g>
<rect class="sp" x="118.5" y="2305.7" width="1570.9" height="222.2"/>
<path class="ti" d="M146.5 2527.9v-8M146.5 2305.7v8M293.2 2527.9v-8M293.2 2305.7v8M439.8 2527.9v-8M439.8 2305.7v8M586.5 2527.9v-8M586.5 2305.7v8M733.1 2527.9v-8M733.1 2305.7v8M879.8 2527.9v-8M879.8 2305.7v8M1026.4 2527.9v-8M1026.4 2305.7v8M1173.1 2527.9v-8M1173.1 2305.7v8M1319.7 2527.9v-8M1319.7 2305.7v8M1466.4 2527.9v-8M1466.4 2305.7v8M1613 2527.9v-8M1613 2305.7v8M118.5 2337.4h8M1689.4 2337.4h-8M118.5 2369.2h8M1689.4 2369.2h-8M118.5 2400.9h8M1689.4 2400.9h-8M118.5 2432.7h8M1689.4 2432.7h-8M118.5 2464.4h8M1689.4 2464.4h-8M118.5 2496.2h8M1689.4 2496.2h-8"/>
<g class="tk yl">
<text x="110" y="2311.7">0.70</text><text x="110" y="2343.4">0.65</text><text x="110" y="2375.2">0.60</text><text x="110" y="2406.9">0.55</text><text x="110" y="2438.7">0.50</text><text x="110" y="2470.4">0.45</text><text x="110" y="2502.2">0.40</text><text x="110" y="2533.9">0.35</text>
</g>
<g class="tk xl">
<text x="146.5" y="2550.4">09/15 21:20:00</text><text x="293.2" y="2550.4">09/15 21:21:00</text><text x="439.8" y="2550.4">09/15 21:22:00</text><text x="586.5" y="2550.4">09/15 21:23:00</text><text x="733.1" y="2550.4">09/15 21:24:00</text><text x="879.8" y="2550.4">09/15 21:25:00</text><text x="1026.4" y="2550.4">09/15 21:26:00</text><text x="1173.1" y="2550.4">09/15 21:27:00</text><text x="1319.7" y="2550.4">09/15 21:28:00</text><text x="1466.4" y="2550.4">09/15 21:29:00</text><text x="1613" y="2550.4">09/15 21:30:00</text>
</g>
<text class="lab" transform="translate(54,2416.8) rotate(-90)"><tspan class="m">β</tspan><tspan class="m" font-size="11" dy="3">p</tspan></text>

<!-- ============ TS5: Proton Number Density ============ -->
<text class="ttl" x="903.9" y="2628.5">Proton Number Density</text>
<g clip-path="url(#t5)">
<polyline class="ln1" stroke="#0000ff" points="118.5,2842.3 186.8,2676 255.1,2774 323.4,2734 391.7,2647.3 460,2819 528.3,2759.3 596.6,2764.7 664.9,2750 733.2,2788.7 801.5,2820.3 869.8,2795.3 938.1,2779 1006.4,2664.7 1074.7,2746 1143,2720 1211.3,2693.3 1279.6,2672.3 1347.9,2744 1416.2,2695.3 1484.5,2706.7 1552.8,2718 1621.1,2770 1689.4,2758.3"/>
</g>
<rect class="sp" x="118.5" y="2639" width="1570.9" height="222.2"/>
<path class="ti" d="M146.5 2861.2v-8M146.5 2639v8M293.2 2861.2v-8M293.2 2639v8M439.8 2861.2v-8M439.8 2639v8M586.5 2861.2v-8M586.5 2639v8M733.1 2861.2v-8M733.1 2639v8M879.8 2861.2v-8M879.8 2639v8M1026.4 2861.2v-8M1026.4 2639v8M1173.1 2861.2v-8M1173.1 2639v8M1319.7 2861.2v-8M1319.7 2639v8M1466.4 2861.2v-8M1466.4 2639v8M1613 2861.2v-8M1613 2639v8M118.5 2663.7h8M1689.4 2663.7h-8M118.5 2688.4h8M1689.4 2688.4h-8M118.5 2713.1h8M1689.4 2713.1h-8M118.5 2737.8h8M1689.4 2737.8h-8M118.5 2762.5h8M1689.4 2762.5h-8M118.5 2787.2h8M1689.4 2787.2h-8M118.5 2811.8h8M1689.4 2811.8h-8M118.5 2836.5h8M1689.4 2836.5h-8"/>
<g class="tk yl">
<text x="110" y="2645">44.5</text><text x="110" y="2669.7">44.0</text><text x="110" y="2694.4">43.5</text><text x="110" y="2719.1">43.0</text><text x="110" y="2743.8">42.5</text><text x="110" y="2768.5">42.0</text><text x="110" y="2793.2">41.5</text><text x="110" y="2817.8">41.0</text><text x="110" y="2842.5">40.5</text><text x="110" y="2867.2">40.0</text>
</g>
<g class="tk xl">
<text x="146.5" y="2883.7">09/15 21:20:00</text><text x="293.2" y="2883.7">09/15 21:21:00</text><text x="439.8" y="2883.7">09/15 21:22:00</text><text x="586.5" y="2883.7">09/15 21:23:00</text><text x="733.1" y="2883.7">09/15 21:24:00</text><text x="879.8" y="2883.7">09/15 21:25:00</text><text x="1026.4" y="2883.7">09/15 21:26:00</text><text x="1173.1" y="2883.7">09/15 21:27:00</text><text x="1319.7" y="2883.7">09/15 21:28:00</text><text x="1466.4" y="2883.7">09/15 21:29:00</text><text x="1613" y="2883.7">09/15 21:30:00</text>
</g>
<text class="lab" transform="translate(58,2750.1) rotate(-90)">Np(#/cc)</text>

<!-- ============ TS6: Proton Temperature ============ -->
<text class="ttl" x="903.9" y="2962.3">Proton Temperature and <tspan class="m">T</tspan><tspan class="m" font-size="15" dy="4">e</tspan><tspan class="m" dy="-4">/T</tspan><tspan class="m" font-size="15" dy="4">p</tspan></text>
<g clip-path="url(#t6)">
<polyline class="ln1" stroke="#0000ff" points="118.5,3185 186.8,3015.7 255.1,3032 323.4,2999.3 391.7,2973.3 460,3142.3 528.3,3093.3 596.6,3060.3 664.9,3097.7 733.2,3146.7 801.5,3189.3 869.8,3170.7 938.1,3115 1006.4,3058 1074.7,3120 1143,3124 1211.3,3067.3 1279.6,3056.7 1347.9,3129 1416.2,3085.7 1484.5,3091.7 1552.8,3100.3 1621.1,3158.3 1689.4,3081"/>
</g>
<rect class="sp" x="118.5" y="2972.8" width="1570.9" height="222.2"/>
<path class="ti" d="M146.5 3195v-8M146.5 2972.8v8M293.2 3195v-8M293.2 2972.8v8M439.8 3195v-8M439.8 2972.8v8M586.5 3195v-8M586.5 2972.8v8M733.1 3195v-8M733.1 2972.8v8M879.8 3195v-8M879.8 2972.8v8M1026.4 3195v-8M1026.4 2972.8v8M1173.1 3195v-8M1173.1 2972.8v8M1319.7 3195v-8M1319.7 2972.8v8M1466.4 3195v-8M1466.4 2972.8v8M1613 3195v-8M1613 2972.8v8M118.5 2997.5h8M1689.4 2997.5h-8M118.5 3046.9h8M1689.4 3046.9h-8M118.5 3096.2h8M1689.4 3096.2h-8M118.5 3145.6h8M1689.4 3145.6h-8"/>
<g class="tk yl">
<text x="110" y="3003.5">0.14</text><text x="110" y="3052.9">0.13</text><text x="110" y="3102.2">0.12</text><text x="110" y="3151.6">0.11</text><text x="110" y="3201">0.10</text>
</g>
<g class="tk xl">
<text x="146.5" y="3217.5">09/15 21:20:00</text><text x="293.2" y="3217.5">09/15 21:21:00</text><text x="439.8" y="3217.5">09/15 21:22:00</text><text x="586.5" y="3217.5">09/15 21:23:00</text><text x="733.1" y="3217.5">09/15 21:24:00</text><text x="879.8" y="3217.5">09/15 21:25:00</text><text x="1026.4" y="3217.5">09/15 21:26:00</text><text x="1173.1" y="3217.5">09/15 21:27:00</text><text x="1319.7" y="3217.5">09/15 21:28:00</text><text x="1466.4" y="3217.5">09/15 21:29:00</text><text x="1613" y="3217.5">09/15 21:30:00</text>
</g>
<text class="lab" transform="translate(52,3083.9) rotate(-90)">Tp(10<tspan font-size="11" dy="-6">6</tspan><tspan dy="6">K)</tspan></text>
<rect class="lg" x="124.6" y="2979.3" width="71.6" height="28"/>
<line x1="135" y1="2992.7" x2="157" y2="2992.7" stroke="#0000ff" stroke-width="2.5"/>
<text x="170.8" y="2997.9" font-size="15">Tp</text>

</svg>
</body></html>
